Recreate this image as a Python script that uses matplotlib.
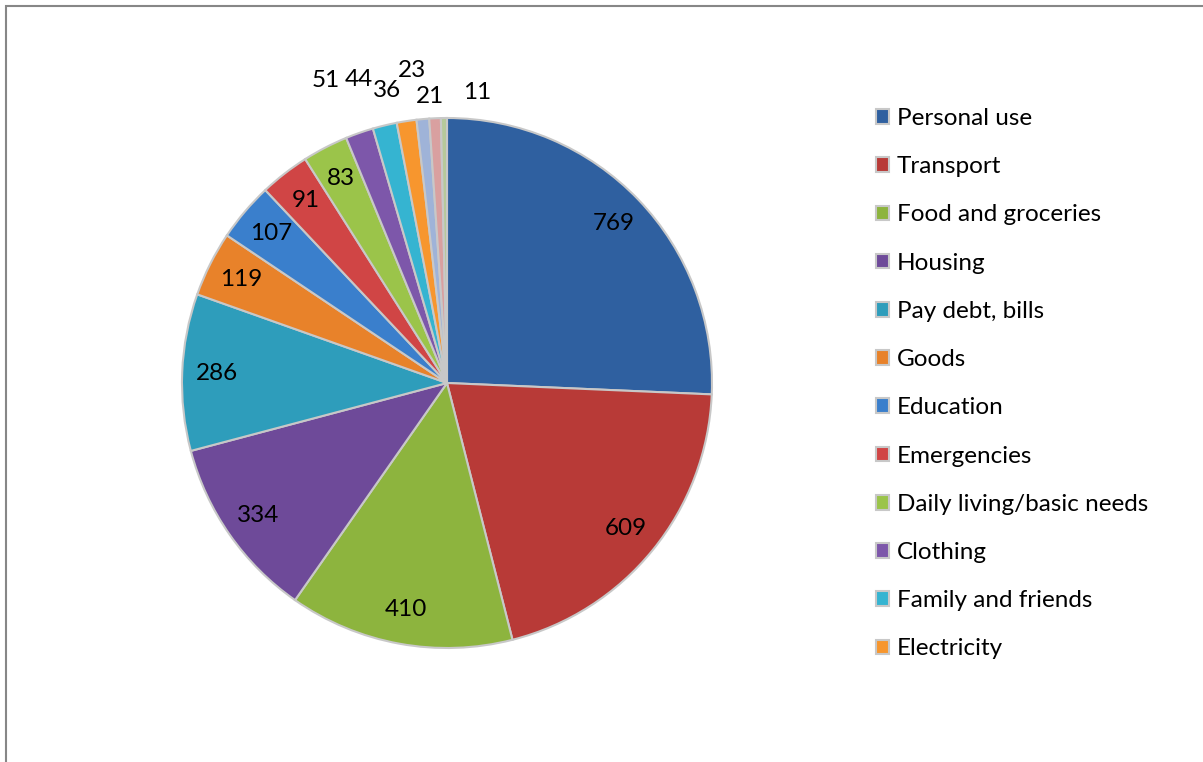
import numpy as np
import matplotlib.pyplot as plt
from matplotlib.patches import Rectangle

categories = ["Personal use", "Transport", "Food and groceries", "Housing",
              "Pay debt, bills", "Goods", "Education", "Emergencies",
              "Daily living/basic needs", "Clothing", "Family and friends",
              "Electricity", "Other 1", "Other 2", "Other 3"]
values = [769, 609, 410, 334, 286, 119, 107, 91, 83, 51, 44, 36, 23, 21, 11]
n_legend = 12  # only the first 12 entries appear in the legend

colors = ["#2F60A0", "#B83A37", "#8DB43E", "#6E4A99", "#2E9DBB", "#E8822A",
          "#3A7FCC", "#D04545", "#9BC44A", "#7D57AA", "#35B4D1", "#F7962E",
          "#9FB3D8", "#D9A0A0", "#B6C99A"]

# nudges (pixels) for the small outside labels
outer_nudge = {9: (-21, 15), 10: (-17, 7), 11: (-13, -9),
               12: (-7, 9), 13: (-3, -18), 14: (34, -14)}

W, H = 1203, 762
fig = plt.figure(figsize=(W / 100, H / 100), dpi=100)
plt.rcParams['font.family'] = ['Lato', 'DejaVu Sans']
fs = 17.5

# chart border (only top and left edges visible)
fig.patches.append(Rectangle((6 / W, -0.1), 1.2, 1 - 6 / H + 0.1,
                             transform=fig.transFigure, fill=False,
                             edgecolor="#878787", linewidth=1.5))

cx, cy, R = 447, 383, 265
ax = fig.add_axes([(cx - R) / W, (H - cy - R) / H, 2 * R / W, 2 * R / H])
wedges, _ = ax.pie(values, colors=colors, startangle=90, counterclock=False,
                   radius=1,
                   wedgeprops=dict(edgecolor="#C8C8C8", linewidth=1.5))
ax.set_xlim(-1, 1)
ax.set_ylim(-1, 1)
ax.set_aspect('equal')
ax.axis('off')

for i, w in enumerate(wedges):
    ang = np.deg2rad((w.theta1 + w.theta2) / 2)
    if i in outer_nudge:
        r = 1.15
        ax.annotate(str(values[i]), (r * np.cos(ang), r * np.sin(ang)),
                    xytext=outer_nudge[i], textcoords='offset pixels',
                    ha='center', va='center', fontsize=fs, color='black',
                    annotation_clip=False)
    else:
        r = 0.87
        ax.text(r * np.cos(ang), r * np.sin(ang), str(values[i]),
                ha='center', va='center', fontsize=fs, color='black')

fig.legend(wedges[:n_legend], categories[:n_legend], loc='upper left',
           bbox_to_anchor=(876 / W, 1 - 108 / H), frameon=False,
           fontsize=fs, handlelength=0.55, handleheight=0.55,
           handletextpad=0.3, labelspacing=1.12, borderpad=0,
           borderaxespad=0)

fig.savefig("out.png", dpi=100)
